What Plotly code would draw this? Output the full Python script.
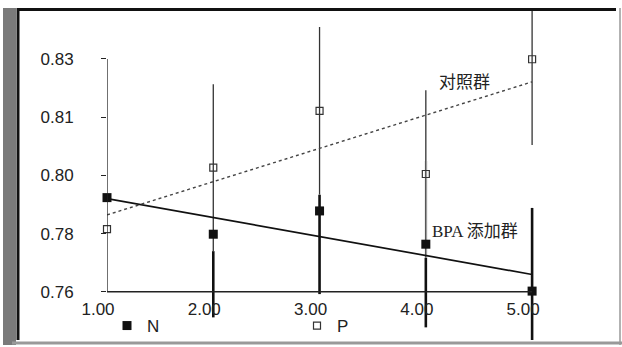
import plotly.graph_objects as go

# ---- data ----
x_vals = [1, 2, 3, 4, 5]
n_vals = [0.7883, 0.7773, 0.7843, 0.7743, 0.7602]   # BPA 添加群 (N)
p_vals = [0.7788, 0.7973, 0.8144, 0.7954, 0.8299]   # 对照群 (P)

bar_x = [2, 3, 4, 5]
n_lo = [0.7523, 0.7593, 0.7493, 0.7352]
n_hi = [0.8023, 0.8093, 0.7993, 0.7852]
p_lo = [0.7722, 0.7892, 0.7702, 0.8041]
p_hi = [0.8224, 0.8396, 0.8206, 0.8557]

fit_x = [1, 5]
n_fit = [0.7880, 0.7652]
p_fit = [0.7831, 0.8231]

y_tickvals = [0.76, 0.7775, 0.795, 0.8125, 0.83]
y_ticktext = ["0.76", "0.78", "0.80", "0.81", "0.83"]
x_ticktext = ["1.00", "2.00", "3.00", "4.00", "5.00"]

# ---- layout geometry ----
W, H = 622, 347
L, R, T, B = 107, 615, 10, 340
X_RANGE = [1, 5.78]
Y_RANGE = [0.7455, 0.8447]


def pxx(xp):
    return (xp - L) / (R - L)


def pxy(yp):
    return (B - yp) / (B - T)


def seg(xs, lo, hi):
    sx, sy = [], []
    for x, a, b in zip(xs, lo, hi):
        sx += [x, x, None]
        sy += [a, b, None]
    return sx, sy


fig = go.Figure()

nx, ny = seg(bar_x, n_lo, n_hi)
fig.add_trace(go.Scatter(x=nx, y=ny, mode="lines", line=dict(color="#111", width=2.6),
                         showlegend=False, hoverinfo="skip"))
px_, py_ = seg(bar_x, p_lo, p_hi)
# white casing so the thin P bars sit over (and hide) the thick N bars, as in the scan
fig.add_trace(go.Scatter(x=px_, y=py_, mode="lines", line=dict(color="white", width=3.4),
                         showlegend=False, hoverinfo="skip"))
fig.add_trace(go.Scatter(x=px_, y=py_, mode="lines", line=dict(color="#333", width=1.3),
                         showlegend=False, hoverinfo="skip"))

fig.add_trace(go.Scatter(x=fit_x, y=n_fit, mode="lines", line=dict(color="#111", width=1.7),
                         showlegend=False, hoverinfo="skip"))
fig.add_trace(go.Scatter(x=fit_x, y=p_fit, mode="lines", line=dict(color="#444", width=1.4, dash="dot"),
                         showlegend=False, hoverinfo="skip"))

fig.add_trace(go.Scatter(x=x_vals, y=n_vals, mode="markers", name="N",
                         marker=dict(symbol="square", size=9, color="#111"),
                         cliponaxis=False, legend="legend"))
fig.add_trace(go.Scatter(x=x_vals, y=p_vals, mode="markers", name="P",
                         marker=dict(symbol="square-open", size=7, color="#333", line=dict(width=1.2)),
                         cliponaxis=False, legend="legend2"))

shapes = [
    # y axis line (x = 1, from 0.76 to 0.83)
    dict(type="line", xref="x", yref="y", x0=1, x1=1, y0=y_tickvals[0], y1=y_tickvals[-1],
         line=dict(color="#222", width=1.3)),
    # x axis line
    dict(type="line", xref="x", yref="y", x0=x_vals[0], x1=x_vals[-1], y0=y_tickvals[0], y1=y_tickvals[0],
         line=dict(color="#222", width=1.3)),
    # frame
    dict(type="rect", xref="paper", yref="paper", x0=pxx(3), x1=pxx(16), y0=pxy(345), y1=pxy(8),
         fillcolor="#7a7a7a", line=dict(width=0)),
    dict(type="line", xref="paper", yref="paper", x0=pxx(18), x1=pxx(18), y0=pxy(340), y1=pxy(8),
         line=dict(color="#111", width=3)),
    dict(type="line", xref="paper", yref="paper", x0=pxx(17), x1=pxx(616), y0=pxy(9.5), y1=pxy(9.5),
         line=dict(color="#111", width=3)),
    dict(type="line", xref="paper", yref="paper", x0=pxx(620), x1=pxx(620), y0=pxy(345), y1=pxy(8),
         line=dict(color="#999", width=1.5)),
    dict(type="line", xref="paper", yref="paper", x0=pxx(12), x1=pxx(622), y0=pxy(343), y1=pxy(343),
         line=dict(color="#999", width=3)),
]

ann_font = dict(family="Liberation Serif, Noto Sans CJK SC", size=17, color="#222")
annotations = [
    dict(x=4.36, y=0.8228, xref="x", yref="y", text="对照群", showarrow=False, font=ann_font),
    dict(x=4.463, y=0.7780, xref="x", yref="y", text="BPA 添加群", showarrow=False, font=ann_font),
]

tick_font = dict(family="Liberation Sans, Arial", size=17, color="#222")

fig.update_layout(
    template="none",
    width=W, height=H,
    autosize=False,
    margin=dict(l=L, r=W - R, t=T, b=H - B, pad=0, autoexpand=False),
    paper_bgcolor="white", plot_bgcolor="white",
    font=tick_font,
    shapes=shapes,
    annotations=annotations,
    xaxis=dict(range=X_RANGE, anchor="free", automargin=False,
               position=(y_tickvals[0] - Y_RANGE[0]) / (Y_RANGE[1] - Y_RANGE[0]),
               showline=False, showgrid=False, zeroline=False,
               tickmode="array", tickvals=x_vals, ticktext=x_ticktext,
               ticks="", tickfont=tick_font,
               ticklabelshift=-9, ticklabelstandoff=5),
    yaxis=dict(range=Y_RANGE, showline=False, showgrid=False, zeroline=False, automargin=False,
               tickmode="array", tickvals=y_tickvals, ticktext=y_ticktext,
               ticks="outside", ticklen=5, tickcolor="#222", tickfont=tick_font,
               ticklabelstandoff=24),
    legend=dict(x=0, y=pxy(326), xanchor="left", yanchor="middle", orientation="h",
                font=tick_font, bgcolor="rgba(0,0,0,0)", borderwidth=0),
    legend2=dict(x=pxx(297), y=pxy(326), xanchor="left", yanchor="middle", orientation="h",
                 font=tick_font, bgcolor="rgba(0,0,0,0)", borderwidth=0),
)

fig.write_html("out.html", config={"displayModeBar": False},
               post_script="document.body.style.margin='0';")
